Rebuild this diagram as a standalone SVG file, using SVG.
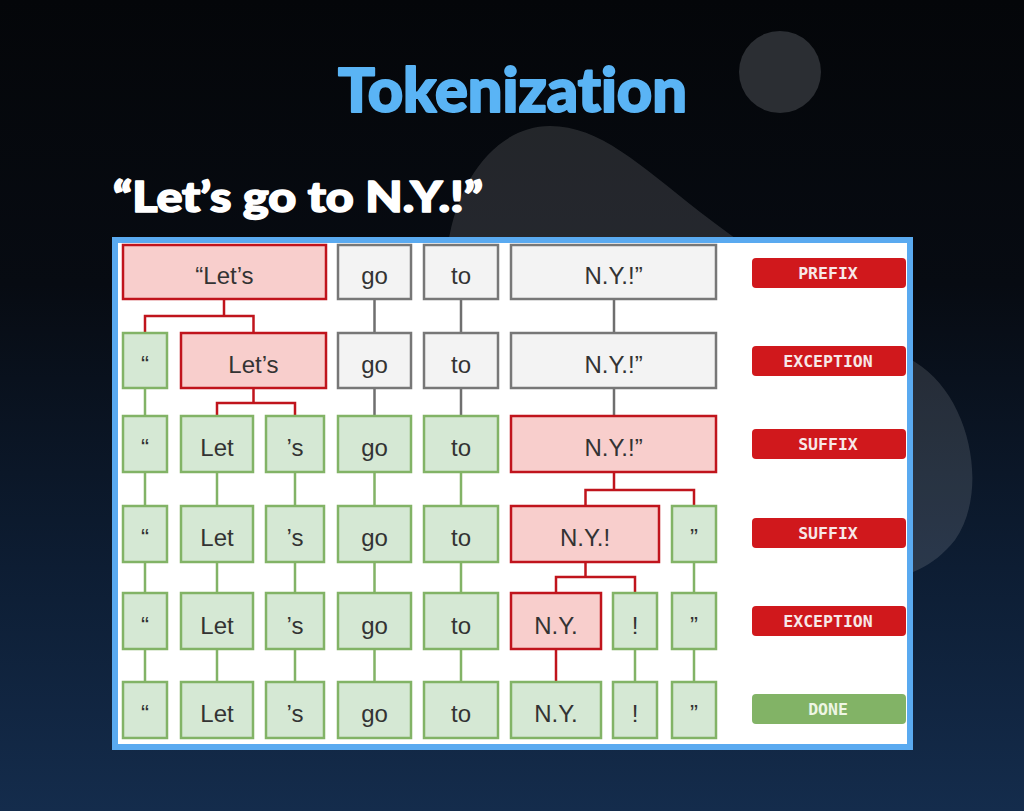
<svg xmlns="http://www.w3.org/2000/svg" width="1024" height="811" viewBox="0 0 1024 811">
  <defs>
    <linearGradient id="bg" x1="0" y1="0" x2="0" y2="1">
      <stop offset="0" stop-color="#040609"/>
      <stop offset="0.35" stop-color="#070b12"/>
      <stop offset="0.7" stop-color="#0d1d33"/>
      <stop offset="1" stop-color="#142c4c"/>
    </linearGradient>
    <style>
      .tok { font-family: "Liberation Sans", Arial, sans-serif; font-size: 24px; fill: #333333; text-anchor: middle; }
      .red { fill: #f8cecc; stroke: #c0141c; stroke-width: 2.5; }
      .grn { fill: #d5e8d4; stroke: #82b366; stroke-width: 2.5; }
      .gry { fill: #f3f3f3; stroke: #777777; stroke-width: 2.5; }
      .cr { stroke: #c0141c; stroke-width: 2.5; fill: none; }
      .cg { stroke: #82b366; stroke-width: 2.5; fill: none; }
      .cy { stroke: #6f6f6f; stroke-width: 2.5; fill: none; }
      .badge { fill: #d0181c; }
      .done { fill: #82b366; }
      .btxt { font-family: "DejaVu Sans Mono", "Liberation Mono", monospace; font-weight: bold; font-size: 16.5px; fill: #f7e8e8; text-anchor: middle; }
      .head { font-family: Lato, "Open Sans", sans-serif; font-weight: 900; stroke-linejoin: round; font-variant-ligatures: none; font-feature-settings: "liga" 0, "dlig" 0; }
    </style>
  </defs>

  <!-- background -->
  <rect x="0" y="0" width="1024" height="811" fill="url(#bg)"/>
  <circle cx="780" cy="72" r="41" fill="#2b2e33"/>
  <path d="M 448,245 C 458,175 500,126 550,126 C 600,126 640,165 700,212 C 780,272 860,330 915,362 C 970,395 990,490 955,540 C 915,590 860,585 800,560 L 500,560 Z" fill="#ffffff" fill-opacity="0.12"/>

  <!-- titles -->
  <text class="head" x="338" y="112" font-size="60" fill="#5ab4f5" stroke="#5ab4f5" stroke-width="2" textLength="349" lengthAdjust="spacingAndGlyphs">Tokenization</text>
  <text class="head" x="113" y="212" font-size="42" fill="#ffffff" stroke="#ffffff" stroke-width="1.6" textLength="370" lengthAdjust="spacingAndGlyphs">“Let’s go to N.Y.!”</text>

  <!-- panel -->
  <rect x="115" y="240" width="795" height="507" fill="#ffffff" stroke="#5aaaf0" stroke-width="6"/>

  <!-- connectors -->
  <g id="connectors">
    <path class="cy" d="M374.5,299 V333 M374.5,388 V416 M461,299 V333 M461,388 V416 M614,299 V333 M614,388 V416"/>
    <path class="cr" d="M224,299 V316 M145,333 V316 H253.5 V333"/>
    <path class="cr" d="M253.5,388 V403 M217,416 V403 H295 V416"/>
    <path class="cr" d="M614,472 V490 M585.5,506 V490 H694 V506"/>
    <path class="cr" d="M585.5,562 V577 M556,593 V577 H635 V593"/>
    <path class="cr" d="M556,649 V682"/>
    <path class="cg" d="M145,388 V416 M145,472 V506 M145,562 V593 M145,649 V682"/>
    <path class="cg" d="M217,472 V506 M217,562 V593 M217,649 V682"/>
    <path class="cg" d="M295,472 V506 M295,562 V593 M295,649 V682"/>
    <path class="cg" d="M374.5,472 V506 M374.5,562 V593 M374.5,649 V682"/>
    <path class="cg" d="M461,472 V506 M461,562 V593 M461,649 V682"/>
    <path class="cg" d="M694,562 V593 M694,649 V682"/>
    <path class="cg" d="M635,649 V682"/>
  </g>

  <!-- row 1 -->
  <g id="r1-lets"><rect class="red" x="123" y="245" width="203" height="54"/><text class="tok" x="224.5" y="284">“Let’s</text></g>
  <g id="r1-go"><rect class="gry" x="338" y="245" width="73" height="54"/><text class="tok" x="374.5" y="284">go</text></g>
  <g id="r1-to"><rect class="gry" x="424" y="245" width="74" height="54"/><text class="tok" x="461" y="284">to</text></g>
  <g id="r1-ny"><rect class="gry" x="511" y="245" width="205" height="54"/><text class="tok" x="613.5" y="284">N.Y.!”</text></g>

  <!-- row 2 -->
  <g id="r2-q"><rect class="grn" x="123" y="333" width="44" height="55"/><text class="tok" x="145" y="373">“</text></g>
  <g id="r2-lets"><rect class="red" x="181" y="333" width="145" height="55"/><text class="tok" x="253.5" y="373">Let’s</text></g>
  <g id="r2-go"><rect class="gry" x="338" y="333" width="73" height="55"/><text class="tok" x="374.5" y="373">go</text></g>
  <g id="r2-to"><rect class="gry" x="424" y="333" width="74" height="55"/><text class="tok" x="461" y="373">to</text></g>
  <g id="r2-ny"><rect class="gry" x="511" y="333" width="205" height="55"/><text class="tok" x="613.5" y="373">N.Y.!”</text></g>

  <!-- row 3 -->
  <g id="r3-q"><rect class="grn" x="123" y="416" width="44" height="56"/><text class="tok" x="145" y="456">“</text></g>
  <g id="r3-let"><rect class="grn" x="181" y="416" width="72" height="56"/><text class="tok" x="217" y="456">Let</text></g>
  <g id="r3-s"><rect class="grn" x="266" y="416" width="58" height="56"/><text class="tok" x="295" y="456">’s</text></g>
  <g id="r3-go"><rect class="grn" x="338" y="416" width="73" height="56"/><text class="tok" x="374.5" y="456">go</text></g>
  <g id="r3-to"><rect class="grn" x="424" y="416" width="74" height="56"/><text class="tok" x="461" y="456">to</text></g>
  <g id="r3-ny"><rect class="red" x="511" y="416" width="205" height="56"/><text class="tok" x="613.5" y="456">N.Y.!”</text></g>

  <!-- row 4 -->
  <g id="r4-q"><rect class="grn" x="123" y="506" width="44" height="56"/><text class="tok" x="145" y="546">“</text></g>
  <g id="r4-let"><rect class="grn" x="181" y="506" width="72" height="56"/><text class="tok" x="217" y="546">Let</text></g>
  <g id="r4-s"><rect class="grn" x="266" y="506" width="58" height="56"/><text class="tok" x="295" y="546">’s</text></g>
  <g id="r4-go"><rect class="grn" x="338" y="506" width="73" height="56"/><text class="tok" x="374.5" y="546">go</text></g>
  <g id="r4-to"><rect class="grn" x="424" y="506" width="74" height="56"/><text class="tok" x="461" y="546">to</text></g>
  <g id="r4-ny"><rect class="red" x="511" y="506" width="148" height="56"/><text class="tok" x="585" y="546">N.Y.!</text></g>
  <g id="r4-cq"><rect class="grn" x="672" y="506" width="44" height="56"/><text class="tok" x="694" y="546">”</text></g>

  <!-- row 5 -->
  <g id="r5-q"><rect class="grn" x="123" y="593" width="44" height="56"/><text class="tok" x="145" y="634">“</text></g>
  <g id="r5-let"><rect class="grn" x="181" y="593" width="72" height="56"/><text class="tok" x="217" y="634">Let</text></g>
  <g id="r5-s"><rect class="grn" x="266" y="593" width="58" height="56"/><text class="tok" x="295" y="634">’s</text></g>
  <g id="r5-go"><rect class="grn" x="338" y="593" width="73" height="56"/><text class="tok" x="374.5" y="634">go</text></g>
  <g id="r5-to"><rect class="grn" x="424" y="593" width="74" height="56"/><text class="tok" x="461" y="634">to</text></g>
  <g id="r5-ny"><rect class="red" x="511" y="593" width="90" height="56"/><text class="tok" x="556" y="634">N.Y.</text></g>
  <g id="r5-ex"><rect class="grn" x="613" y="593" width="44" height="56"/><text class="tok" x="635" y="634">!</text></g>
  <g id="r5-cq"><rect class="grn" x="672" y="593" width="44" height="56"/><text class="tok" x="694" y="634">”</text></g>

  <!-- row 6 -->
  <g id="r6-q"><rect class="grn" x="123" y="682" width="44" height="56"/><text class="tok" x="145" y="722">“</text></g>
  <g id="r6-let"><rect class="grn" x="181" y="682" width="72" height="56"/><text class="tok" x="217" y="722">Let</text></g>
  <g id="r6-s"><rect class="grn" x="266" y="682" width="58" height="56"/><text class="tok" x="295" y="722">’s</text></g>
  <g id="r6-go"><rect class="grn" x="338" y="682" width="73" height="56"/><text class="tok" x="374.5" y="722">go</text></g>
  <g id="r6-to"><rect class="grn" x="424" y="682" width="74" height="56"/><text class="tok" x="461" y="722">to</text></g>
  <g id="r6-ny"><rect class="grn" x="511" y="682" width="90" height="56"/><text class="tok" x="556" y="722">N.Y.</text></g>
  <g id="r6-ex"><rect class="grn" x="613" y="682" width="44" height="56"/><text class="tok" x="635" y="722">!</text></g>
  <g id="r6-cq"><rect class="grn" x="672" y="682" width="44" height="56"/><text class="tok" x="694" y="722">”</text></g>

  <!-- badges -->
  <g id="b-prefix"><rect class="badge" x="752" y="258" width="154" height="30" rx="4"/><text class="btxt" x="828" y="279">PREFIX</text></g>
  <g id="b-exception1"><rect class="badge" x="752" y="346" width="154" height="30" rx="4"/><text class="btxt" x="828" y="367">EXCEPTION</text></g>
  <g id="b-suffix1"><rect class="badge" x="752" y="429" width="154" height="30" rx="4"/><text class="btxt" x="828" y="450">SUFFIX</text></g>
  <g id="b-suffix2"><rect class="badge" x="752" y="518" width="154" height="30" rx="4"/><text class="btxt" x="828" y="539">SUFFIX</text></g>
  <g id="b-exception2"><rect class="badge" x="752" y="606" width="154" height="30" rx="4"/><text class="btxt" x="828" y="627">EXCEPTION</text></g>
  <g id="b-done"><rect class="done" x="752" y="694" width="154" height="30" rx="4"/><text class="btxt" x="828" y="715" style="fill:#eef6e4">DONE</text></g>
</svg>
